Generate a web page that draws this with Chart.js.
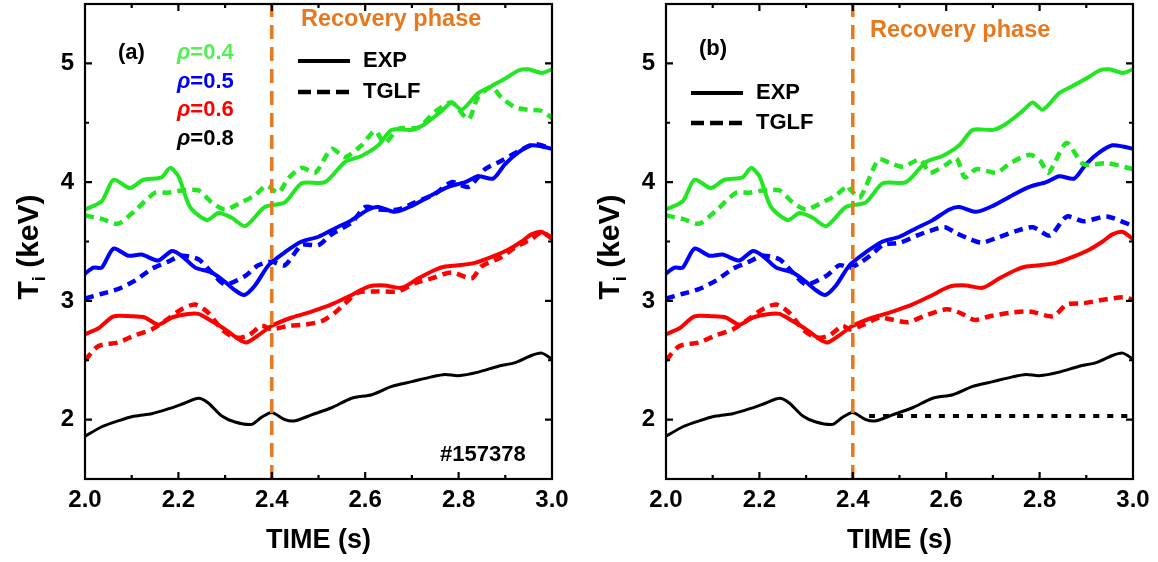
<!DOCTYPE html>
<html>
<head>
<meta charset="utf-8">
<script src="https://cdn.jsdelivr.net/npm/chart.js@4.4.0/dist/chart.umd.min.js"></script>
<style>
  body { margin: 0; background: #fff; }
  #wrap { display: flex; width: 1158px; height: 562px; }
  canvas { display: block; }
</style>
</head>
<body>
<div id="wrap">
  <canvas id="panelA" width="579" height="562"></canvas>
  <canvas id="panelB" width="579" height="562"></canvas>
</div>
<script>
// Ti time traces, shot 157378. EXP = measured, TGLF = predicted.
var xTicks = [2.0, 2.2, 2.4, 2.6, 2.8, 3.0];
var yTicks = [2, 3, 4, 5];
var recoveryStart = 2.4;

// rho = 0.4
var tExp04 = [2.000, 2.036, 2.061, 2.096, 2.125, 2.164, 2.182, 2.200, 2.225, 2.261, 2.286, 2.314, 2.343, 2.385, 2.428, 2.464, 2.514, 2.557, 2.592, 2.628, 2.657, 2.700, 2.728, 2.764, 2.785, 2.807, 2.842, 2.871, 2.899, 2.928, 2.949, 2.978, 3.000];
var exp04 = [3.77, 3.84, 4.02, 3.95, 4.02, 4.04, 4.12, 4.05, 3.79, 3.68, 3.74, 3.70, 3.63, 3.79, 3.83, 3.99, 4.00, 4.17, 4.22, 4.31, 4.44, 4.44, 4.49, 4.60, 4.67, 4.61, 4.75, 4.81, 4.87, 4.94, 4.95, 4.92, 4.95];
var tTglf04 = [2.000, 2.036, 2.071, 2.107, 2.150, 2.178, 2.207, 2.243, 2.271, 2.300, 2.335, 2.364, 2.389, 2.414, 2.435, 2.464, 2.493, 2.528, 2.557, 2.592, 2.621, 2.642, 2.671, 2.714, 2.749, 2.785, 2.821, 2.842, 2.871, 2.892, 2.921, 2.949, 2.978, 3.000];
var tglf04 = [3.72, 3.69, 3.65, 3.76, 3.91, 3.91, 3.93, 3.93, 3.83, 3.77, 3.83, 3.89, 3.97, 3.91, 4.03, 4.12, 4.08, 4.28, 4.21, 4.31, 4.43, 4.33, 4.45, 4.46, 4.59, 4.67, 4.53, 4.72, 4.80, 4.71, 4.63, 4.61, 4.60, 4.54];
var tTglf04b = [2.394, 2.415, 2.455, 2.480, 2.508, 2.544, 2.565, 2.601, 2.622, 2.640, 2.665, 2.708, 2.737, 2.779, 2.801, 2.819, 2.858, 2.894, 2.944, 3.000];
var tglf04b = [3.94, 3.87, 4.19, 4.16, 4.13, 4.19, 4.08, 4.15, 4.20, 4.04, 4.11, 4.08, 4.16, 4.23, 4.18, 4.08, 4.33, 4.15, 4.16, 4.11];

// rho = 0.5
var tExp05 = [2.000, 2.018, 2.036, 2.061, 2.093, 2.121, 2.157, 2.186, 2.207, 2.236, 2.271, 2.300, 2.321, 2.341, 2.364, 2.393, 2.428, 2.464, 2.500, 2.535, 2.571, 2.607, 2.628, 2.664, 2.700, 2.742, 2.778, 2.814, 2.842, 2.874, 2.899, 2.928, 2.956, 2.978, 3.000];
var exp05 = [3.23, 3.28, 3.28, 3.44, 3.38, 3.39, 3.34, 3.42, 3.38, 3.28, 3.24, 3.16, 3.09, 3.05, 3.13, 3.30, 3.41, 3.50, 3.54, 3.61, 3.68, 3.77, 3.79, 3.75, 3.80, 3.89, 3.96, 4.00, 4.05, 4.03, 4.15, 4.25, 4.31, 4.30, 4.28];
var tTglf05 = [2.000, 2.036, 2.071, 2.107, 2.143, 2.178, 2.207, 2.243, 2.271, 2.300, 2.343, 2.371, 2.400, 2.428, 2.464, 2.500, 2.528, 2.571, 2.600, 2.628, 2.671, 2.707, 2.749, 2.785, 2.821, 2.857, 2.892, 2.928, 2.964, 3.000];
var tglf05 = [3.02, 3.06, 3.10, 3.17, 3.27, 3.33, 3.38, 3.35, 3.24, 3.14, 3.21, 3.30, 3.33, 3.30, 3.47, 3.47, 3.56, 3.66, 3.79, 3.77, 3.77, 3.83, 3.90, 4.00, 3.96, 4.11, 4.18, 4.26, 4.32, 4.28];
var tTglf05b = [2.394, 2.415, 2.437, 2.465, 2.501, 2.537, 2.565, 2.597, 2.622, 2.651, 2.676, 2.708, 2.751, 2.786, 2.822, 2.858, 2.894, 2.944, 3.000];
var tglf05b = [3.28, 3.32, 3.38, 3.47, 3.49, 3.55, 3.59, 3.62, 3.57, 3.52, 3.49, 3.53, 3.59, 3.62, 3.55, 3.71, 3.67, 3.71, 3.63];

// rho = 0.6
var tExp06 = [2.000, 2.029, 2.061, 2.100, 2.128, 2.157, 2.186, 2.221, 2.243, 2.271, 2.300, 2.328, 2.346, 2.371, 2.400, 2.443, 2.485, 2.528, 2.571, 2.607, 2.642, 2.678, 2.714, 2.749, 2.771, 2.799, 2.835, 2.871, 2.906, 2.935, 2.956, 2.978, 3.000];
var exp06 = [2.72, 2.77, 2.87, 2.87, 2.86, 2.80, 2.86, 2.89, 2.89, 2.83, 2.76, 2.68, 2.65, 2.71, 2.79, 2.86, 2.91, 2.97, 3.05, 3.12, 3.13, 3.11, 3.19, 3.26, 3.29, 3.30, 3.32, 3.37, 3.43, 3.50, 3.56, 3.58, 3.52];
var tTglf06 = [2.000, 2.029, 2.071, 2.107, 2.143, 2.171, 2.207, 2.236, 2.264, 2.293, 2.321, 2.350, 2.378, 2.400, 2.435, 2.471, 2.507, 2.535, 2.557, 2.585, 2.628, 2.671, 2.707, 2.742, 2.785, 2.828, 2.849, 2.892, 2.921, 2.956, 2.978, 3.000];
var tglf06 = [2.50, 2.62, 2.65, 2.71, 2.76, 2.83, 2.93, 2.97, 2.90, 2.76, 2.69, 2.71, 2.79, 2.76, 2.79, 2.80, 2.83, 2.90, 2.98, 3.07, 3.08, 3.08, 3.15, 3.19, 3.24, 3.19, 3.29, 3.37, 3.45, 3.52, 3.58, 3.53];
var tTglf06b = [2.394, 2.423, 2.458, 2.487, 2.519, 2.551, 2.601, 2.629, 2.661, 2.693, 2.737, 2.779, 2.829, 2.858, 2.894, 2.937, 2.980, 3.000];
var tglf06b = [2.76, 2.80, 2.86, 2.84, 2.82, 2.87, 2.93, 2.90, 2.84, 2.87, 2.90, 2.91, 2.87, 2.97, 2.98, 3.01, 3.03, 3.01];

// rho = 0.8
var tExp08 = [2.000, 2.036, 2.071, 2.107, 2.143, 2.178, 2.214, 2.243, 2.264, 2.293, 2.321, 2.357, 2.378, 2.400, 2.428, 2.450, 2.485, 2.528, 2.571, 2.614, 2.657, 2.700, 2.742, 2.771, 2.799, 2.842, 2.885, 2.921, 2.956, 2.978, 3.000];
var exp08 = [1.86, 1.94, 1.99, 2.03, 2.05, 2.09, 2.14, 2.18, 2.14, 2.03, 1.98, 1.96, 2.02, 2.06, 2.00, 1.99, 2.04, 2.10, 2.18, 2.21, 2.28, 2.32, 2.36, 2.38, 2.37, 2.40, 2.45, 2.48, 2.54, 2.56, 2.51];
var tTglf08b = [2.435, 3.000];
var tglf08b = [2.03, 2.03];

var FONT = "'Liberation Sans', Arial, sans-serif";
var ORANGE = '#e8781e';
var GREEN = '#22e622';
var BLUE = '#0000ff';
var RED = '#ff0000';

function pts(ts, vs) {
    return ts.map(function(t, i) { return {x: t, y: vs[i]}; });
}

// TGLF before the recovery phase from (a), then the (b) run
function joined(tA, vA, tB, vB) {
    var out = [];
    for (var i = 0; i < tA.length; i++) {
        if (tA[i] < tB[0]) out.push({x: tA[i], y: vA[i]});
    }
    return out.concat(pts(tB, vB));
}

function line(data, color, width, dash) {
    return {
        data: data,
        borderColor: color,
        borderWidth: width,
        borderDash: dash || [],
        borderCapStyle: 'butt',
        pointRadius: 0,
        tension: 0.25,
        fill: false,
        order: 1
    };
}

function marker() {
    return {
        data: [{x: recoveryStart, y: 1.5}, {x: recoveryStart, y: 5.5}],
        borderColor: ORANGE,
        borderWidth: 3.5,
        borderDash: [14, 8],
        pointRadius: 0,
        fill: false,
        order: 0
    };
}

var DASH = [9, 6];

var setA = [
    marker(),
    line(pts(tExp04, exp04), GREEN, 4),
    line(pts(tTglf04, tglf04), GREEN, 4.5, DASH),
    line(pts(tExp05, exp05), BLUE, 4),
    line(pts(tTglf05, tglf05), BLUE, 4.5, DASH),
    line(pts(tExp06, exp06), RED, 4),
    line(pts(tTglf06, tglf06), RED, 4.5, DASH),
    line(pts(tExp08, exp08), '#000', 3)
];

var setB = [
    marker(),
    line(pts(tExp04, exp04), GREEN, 4),
    line(joined(tTglf04, tglf04, tTglf04b, tglf04b), GREEN, 4.5, DASH),
    line(pts(tExp05, exp05), BLUE, 4),
    line(joined(tTglf05, tglf05, tTglf05b, tglf05b), BLUE, 4.5, DASH),
    line(pts(tExp06, exp06), RED, 4),
    line(joined(tTglf06, tglf06, tTglf06b, tglf06b), RED, 4.5, DASH),
    line(pts(tExp08, exp08), '#000', 3),
    line(pts(tTglf08b, tglf08b), '#000', 4, [6, 8])
];

// frame with inward ticks on all four sides, plus the labels inside the box
var decor = {
    id: 'decor',
    afterDatasetsDraw: function(chart) {
        var ctx = chart.ctx, a = chart.chartArea;
        var xs = chart.scales.x, ys = chart.scales.y;
        ctx.save();
        ctx.strokeStyle = '#000';
        ctx.lineWidth = 2.2;
        ctx.setLineDash([]);
        ctx.strokeRect(a.left, a.top, a.right - a.left, a.bottom - a.top);
        ctx.beginPath();
        for (var i = 1; i < 10; i++) {
            var px = xs.getPixelForValue(2 + i / 10);
            var len = i % 2 === 0 ? 7 : 4;
            ctx.moveTo(px, a.bottom); ctx.lineTo(px, a.bottom - len);
            ctx.moveTo(px, a.top); ctx.lineTo(px, a.top + len);
        }
        for (var j = 1; j < 8; j++) {
            var py = ys.getPixelForValue(1.5 + j / 2);
            var l2 = j % 2 === 1 ? 7 : 4;
            ctx.moveTo(a.left, py); ctx.lineTo(a.left + l2, py);
            ctx.moveTo(a.right, py); ctx.lineTo(a.right - l2, py);
        }
        ctx.stroke();
        ctx.restore();
    },
    afterDraw: function(chart, args, o) {
        var ctx = chart.ctx;
        ctx.save();
        ctx.textBaseline = 'middle';
        ctx.textAlign = 'left';

        // y axis title, T with subscript i
        var big = 'bold 30px ' + FONT, sub = 'bold 18px ' + FONT;
        ctx.font = big;
        var wT = ctx.measureText('T').width, wK = ctx.measureText(' (keV)').width;
        ctx.font = sub;
        var wi = ctx.measureText('i').width;
        var w = wT + wi + wK;
        ctx.save();
        ctx.translate(o.yTitle[0], o.yTitle[1]);
        ctx.rotate(-Math.PI / 2);
        ctx.textBaseline = 'alphabetic';
        ctx.fillStyle = '#000';
        ctx.font = big;
        ctx.fillText('T', -w / 2, 0);
        ctx.font = sub;
        ctx.fillText('i', -w / 2 + wT, 7);
        ctx.font = big;
        ctx.fillText(' (keV)', -w / 2 + wT + wi, 0);
        ctx.restore();

        ctx.fillStyle = '#000';
        ctx.font = 'bold 22px ' + FONT;
        ctx.fillText(o.panel, o.panelPos[0], o.panelPos[1]);

        ctx.fillStyle = ORANGE;
        ctx.font = 'bold 23.5px ' + FONT;
        ctx.fillText('Recovery phase', o.recovery[0], o.recovery[1]);

        // line style key
        var lx = o.key[0], ly = o.key[1], gap = o.key[2];
        ctx.strokeStyle = '#000';
        ctx.lineWidth = 4;
        ctx.beginPath();
        ctx.moveTo(lx, ly); ctx.lineTo(lx + 52, ly);
        ctx.stroke();
        ctx.setLineDash([13, 6]);
        ctx.lineWidth = 4.5;
        ctx.beginPath();
        ctx.moveTo(lx, ly + gap); ctx.lineTo(lx + 52, ly + gap);
        ctx.stroke();
        ctx.setLineDash([]);
        ctx.fillStyle = '#000';
        ctx.font = 'bold 22px ' + FONT;
        ctx.fillText('EXP', lx + 65, ly);
        ctx.fillText('TGLF', lx + 65, ly + gap);

        if (o.rho) {
            var rows = [['0.4', '#55ee55'], ['0.5', BLUE], ['0.6', RED], ['0.8', '#000']];
            for (var k = 0; k < rows.length; k++) {
                var ry = o.rho[1] + k * 28.5;
                ctx.fillStyle = rows[k][1];
                ctx.font = 'italic bold 22px ' + FONT;
                ctx.fillText('\u03c1', o.rho[0], ry);
                var wr = ctx.measureText('\u03c1').width;
                ctx.font = 'bold 22px ' + FONT;
                ctx.fillText('=' + rows[k][0], o.rho[0] + wr, ry);
            }
        }
        if (o.shot) {
            ctx.fillStyle = '#000';
            ctx.font = 'bold 22px ' + FONT;
            ctx.fillText(o.shot, o.shotPos[0], o.shotPos[1]);
        }
        ctx.restore();
    }
};

function config(datasets, yWidth, padRight, deco) {
    return {
        type: 'line',
        data: {datasets: datasets},
        plugins: [decor],
        options: {
            responsive: false,
            animation: false,
            devicePixelRatio: 1,
            layout: {padding: {top: 4, right: padRight, bottom: 0, left: 0}},
            plugins: {
                legend: {display: false},
                tooltip: {enabled: false},
                decor: deco
            },
            scales: {
                x: {
                    type: 'linear',
                    min: 2,
                    max: 3,
                    afterBuildTicks: function(s) {
                        s.ticks = xTicks.map(function(v) { return {value: v}; });
                    },
                    afterFit: function(s) {
                        s.height = 83;
                        s.paddingLeft = 0;
                        s.paddingRight = 0;
                    },
                    grid: {display: false, drawTicks: false},
                    border: {display: false},
                    ticks: {
                        color: '#000',
                        padding: 7,
                        maxRotation: 0,
                        autoSkip: false,
                        font: {family: FONT, size: 24, weight: 'bold'},
                        callback: function(v) { return v.toFixed(1); }
                    },
                    title: {
                        display: true,
                        text: 'TIME (s)',
                        color: '#000',
                        padding: {top: 0, bottom: 5},
                        font: {family: FONT, size: 27, weight: 'bold'}
                    }
                },
                y: {
                    min: 1.5,
                    max: 5.5,
                    afterBuildTicks: function(s) {
                        s.ticks = yTicks.map(function(v) { return {value: v}; });
                    },
                    afterFit: function(s) {
                        s.width = yWidth;
                        s.paddingTop = 0;
                        s.paddingBottom = 0;
                    },
                    grid: {display: false, drawTicks: false},
                    border: {display: false},
                    ticks: {
                        color: '#000',
                        padding: 11,
                        font: {family: FONT, size: 24, weight: 'bold'},
                        callback: function(v) { return String(v); }
                    }
                }
            }
        }
    };
}

new Chart(document.getElementById('panelA'), config(setA, 85, 27, {
    yTitle: [38, 247],
    panel: '(a)', panelPos: [118, 53],
    recovery: [301, 20],
    key: [298, 61, 31],
    rho: [177, 53],
    shot: '#157378', shotPos: [440, 455]
}));

new Chart(document.getElementById('panelB'), config(setB, 87, 25, {
    yTitle: [40, 247],
    panel: '(b)', panelPos: [120, 49],
    recovery: [291, 31],
    key: [112, 93, 30]
}));
</script>
</body>
</html>
